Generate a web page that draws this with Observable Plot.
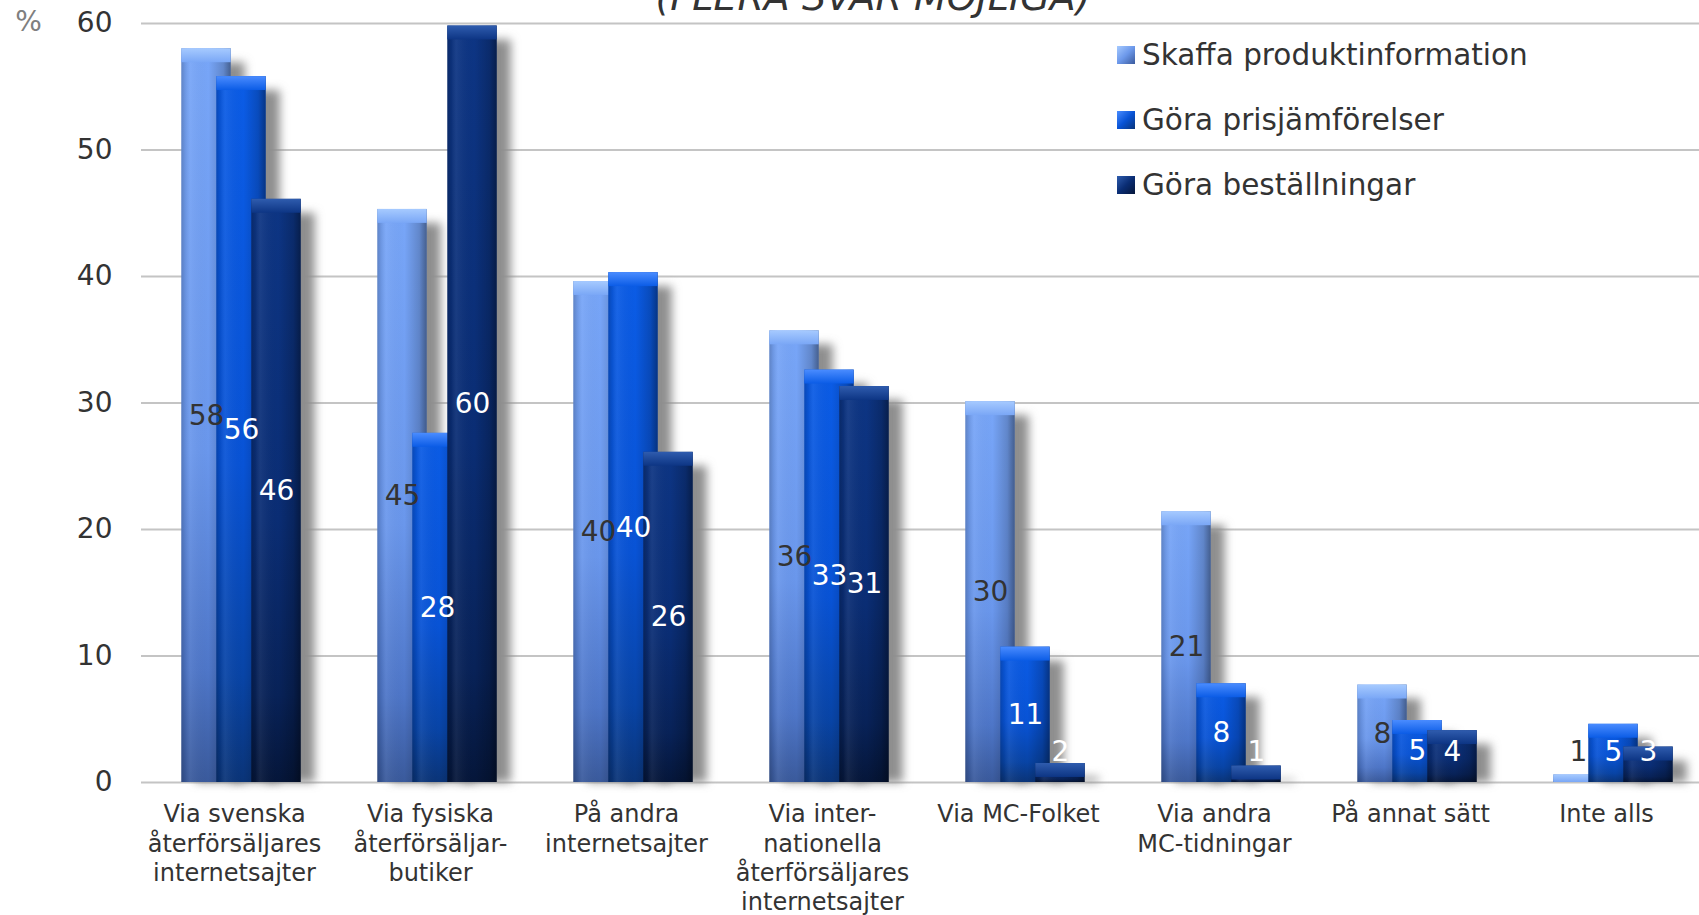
<!DOCTYPE html>
<html>
<head>
<meta charset="utf-8">
<script src="https://cdn.jsdelivr.net/npm/d3@7"></script>
<script src="https://cdn.jsdelivr.net/npm/@observablehq/plot@0.6"></script>
<style>
  html, body { margin: 0; padding: 0; background: #fff; overflow: hidden; }
  #wrap { position: relative; width: 1699px; height: 915px; font-family: "DejaVu Sans", Verdana, sans-serif; color: #333; }
  #title { position: absolute; top: -22px; left: 873px; transform: translateX(-50%); white-space: nowrap;
           font-size: 38px; line-height: 38px; font-style: italic; color: #333; }
  #legend { position: absolute; left: 1117px; top: 0; }
  .lg { position: absolute; left: 0; white-space: nowrap; display: flex; align-items: center; font-size: 29.5px; line-height: 30px; color: #333; }
  .sw { width: 18px; height: 18px; margin-right: 7px; }
</style>
</head>
<body>
<svg width="0" height="0" style="position:absolute">
  <defs>
    <linearGradient id="vg0" x1="0" y1="0" x2="0" y2="1">
      <stop offset="0" stop-color="#78a6f8"/>
      <stop offset="0.55" stop-color="#6a97ec"/>
      <stop offset="0.85" stop-color="#4e76c8"/>
      <stop offset="1" stop-color="#3a5a9c"/>
    </linearGradient>
    <linearGradient id="vg1" x1="0" y1="0" x2="0" y2="1">
      <stop offset="0" stop-color="#0b5ce6"/>
      <stop offset="0.55" stop-color="#0853d6"/>
      <stop offset="0.85" stop-color="#0844a6"/>
      <stop offset="1" stop-color="#0a3478"/>
    </linearGradient>
    <linearGradient id="vg2" x1="0" y1="0" x2="0" y2="1">
      <stop offset="0" stop-color="#0d3584"/>
      <stop offset="0.55" stop-color="#0a2d74"/>
      <stop offset="0.85" stop-color="#082258"/>
      <stop offset="1" stop-color="#05163a"/>
    </linearGradient>
    <linearGradient id="hbev" x1="0" y1="0" x2="1" y2="0">
      <stop offset="0" stop-color="#000" stop-opacity="0.2"/>
      <stop offset="0.08" stop-color="#000" stop-opacity="0.08"/>
      <stop offset="0.18" stop-color="#fff" stop-opacity="0.06"/>
      <stop offset="0.55" stop-color="#000" stop-opacity="0"/>
      <stop offset="0.85" stop-color="#000" stop-opacity="0.18"/>
      <stop offset="1" stop-color="#000" stop-opacity="0.42"/>
    </linearGradient>
    <linearGradient id="cap0" x1="0" y1="0" x2="0" y2="1">
      <stop offset="0" stop-color="#a6caff"/>
      <stop offset="1" stop-color="#7aa7f6"/>
    </linearGradient>
    <linearGradient id="cap1" x1="0" y1="0" x2="0" y2="1">
      <stop offset="0" stop-color="#4a8cff"/>
      <stop offset="1" stop-color="#0b5ce6"/>
    </linearGradient>
    <linearGradient id="cap2" x1="0" y1="0" x2="0" y2="1">
      <stop offset="0" stop-color="#2f5cae"/>
      <stop offset="1" stop-color="#0d3584"/>
    </linearGradient>
    <filter id="blur" filterUnits="userSpaceOnUse" x="0" y="0" width="1800" height="1000">
      <feGaussianBlur stdDeviation="5"/>
    </filter>
  </defs>
</svg>
<div id="wrap">
  <div id="chart"></div>
  <div id="title">(FLERA SVAR MÖJLIGA)</div>
  <div id="legend"></div>
</div>
<script>
// ---- data ----
const categories = [
  "Via svenska\nåterförsäljares\ninternetsajter",
  "Via fysiska\nåterförsäljar-\nbutiker",
  "På andra\ninternetsajter",
  "Via inter-\nnationella\nåterförsäljares\ninternetsajter",
  "Via MC-Folket",
  "Via andra\nMC-tidningar",
  "På annat sätt",
  "Inte alls"
];
const series = ["Skaffa produktinformation", "Göra prisjämförelser", "Göra beställningar"];
const produktinformation = [58.0, 45.3, 39.6, 35.7, 30.1, 21.4, 7.7, 0.6];
const prisjamforelser    = [55.8, 27.6, 40.3, 32.6, 10.7, 7.8, 4.9, 4.6];
const bestallningar      = [46.1, 59.8, 26.1, 31.3, 1.5, 1.3, 4.1, 2.8];
const yTicks = [0, 10, 20, 30, 40, 50, 60];
const title = "(FLERA SVAR MÖJLIGA)";
const unitLabel = "%";

// ---- build ----
const values = [produktinformation, prisjamforelser, bestallningar];
const bySeries = series.map((s, j) => categories.map((c, i) => ({cat: c, series: s, value: values[j][i]})));

const step = 35, inset = 73.3, labelColors = ["#333", "#fff", "#fff"];
const marks = [Plot.gridY(yTicks, {stroke: "#c4c4c4", strokeOpacity: 1, strokeWidth: 2})];

series.forEach((s, j) => {
  const d = bySeries[j];
  const dx = (j - 1) * step - 1;
  marks.push(Plot.barY(d, {x: "cat", y: "value", fill: "#8e8e8e", insetLeft: inset, insetRight: inset, insetTop: 14, dx: dx + 14, ariaDescription: "shadow"}));
  marks.push(Plot.barY(d, {x: "cat", y: "value", fill: `url(#vg${j})`, insetLeft: inset, insetRight: inset, dx}));
  marks.push(Plot.barY(d, {x: "cat", y: "value", fill: "url(#hbev)", insetLeft: inset, insetRight: inset, dx}));
  marks.push(Plot.barY(d, {x: "cat", y1: "value", y2: v => Math.max(v.value - 1.1, 0), fill: `url(#cap${j})`, insetLeft: inset, insetRight: inset, dx}));
});
series.forEach((s, j) => {
  marks.push(Plot.text(bySeries[j], {
    x: "cat", y: v => Math.max(v.value / 2, 2.37), text: v => String(Math.round(v.value)),
    dx: (j - 1) * step - 1, fill: labelColors[j], fontSize: 28
  }));
});
marks.push(Plot.axisY({ticks: yTicks, tickSize: 0, tickPadding: 29, fontSize: 28, label: null}));
marks.push(Plot.text(categories, {x: v => v, text: v => v, frameAnchor: "bottom", lineAnchor: "top", dy: 19, dx: -8, fontSize: 24, lineHeight: 1.22, fill: "#333"}));
marks.push(Plot.text([unitLabel], {frameAnchor: "top-left", text: v => v, textAnchor: "middle", lineAnchor: "middle", dx: -113, dy: -1, fill: "#7f7f7f", fontSize: 28}));

const chart = Plot.plot({
  width: 1699,
  height: 915,
  marginLeft: 141,
  marginRight: -16,
  marginTop: 23,
  marginBottom: 133,
  style: {fontFamily: "DejaVu Sans, Verdana, sans-serif", fontSize: "28px", color: "#333", background: "transparent", overflow: "visible"},
  x: {domain: categories, padding: 0, axis: null},
  y: {domain: [0, 60], axis: null},
  marks
});
chart.querySelectorAll('g[aria-description="shadow"]').forEach(g => g.setAttribute("filter", "url(#blur)"));
document.getElementById("chart").appendChild(chart);

// legend
const swatches = [
  "linear-gradient(135deg, #a6caff, #6c98ea 50%, #3a5a9c)",
  "linear-gradient(135deg, #4a8cff, #0853d6 50%, #0a3478)",
  "linear-gradient(135deg, #2f5cae, #0a2d74 50%, #05163a)"
];
const rowY = [55, 120, 185];
const lg = document.getElementById("legend");
series.forEach((s, j) => {
  const row = document.createElement("div");
  row.className = "lg";
  row.style.top = (rowY[j] - 15) + "px";
  row.style.height = "30px";
  const sw = document.createElement("div");
  sw.className = "sw";
  sw.style.background = swatches[j];
  const t = document.createElement("span");
  t.textContent = s;
  row.appendChild(sw); row.appendChild(t);
  lg.appendChild(row);
});
document.getElementById("title").textContent = title;
</script>
</body>
</html>
